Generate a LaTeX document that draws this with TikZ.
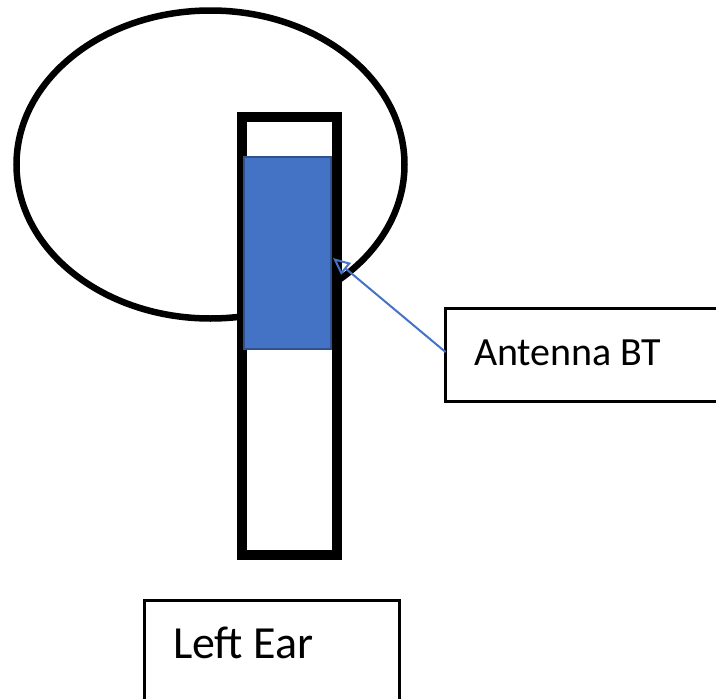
\documentclass[tikz,border=0pt]{standalone}
\usepackage{fontspec}
\setmainfont{Carlito}
\usetikzlibrary{arrows.meta}
\definecolor{blueFill}{HTML}{4472C4}
\definecolor{blueEdge}{HTML}{2F528F}
\begin{document}
\begin{tikzpicture}[x=1pt,y=-1pt,
  frame/.style={draw=black, fill=white, inner sep=0pt, outer sep=0pt},
  labeltext/.style={anchor=base west, inner sep=0pt, outer sep=0pt},
  pointer/.style={draw=blueFill, line width=2pt, -{Triangle[open, length=17pt, width=15pt, line width=2pt]}}]
\useasboundingbox (0,0) rectangle (716,699);
\clip (0,0) rectangle (716,699);
% ear outline
\draw[line width=6.5pt] (210.5,164.5) ellipse [x radius=194, y radius=154];
% tall bar
\node[frame, line width=10pt, minimum width=95pt, minimum height=438pt] (bar) at (289.5,336) {};
% antenna block
\node[draw=blueEdge, fill=blueFill, line width=2pt, inner sep=0pt, outer sep=0pt,
      minimum width=87pt, minimum height=192pt] (antenna) at (287.5,253) {};
% label boxes
\node[frame, line width=3pt, minimum width=314.5pt, minimum height=93pt] (antbox) at (602.75,355) {};
\node[labeltext, font=\fontsize{40}{48}\selectfont] (anttext) at (474,365) {Antenna BT};
\node[frame, line width=3pt, minimum width=255pt, minimum height=160pt] (earbox) at (272,680.5) {};
\node[labeltext, font=\fontsize{46}{54}\selectfont] (eartext) at (173,658) {Left Ear};
% pointer
\coordinate (tip) at (333,258);
\draw[pointer] ([yshift=3pt]antbox.west) -- (tip);
\end{tikzpicture}
\end{document}
